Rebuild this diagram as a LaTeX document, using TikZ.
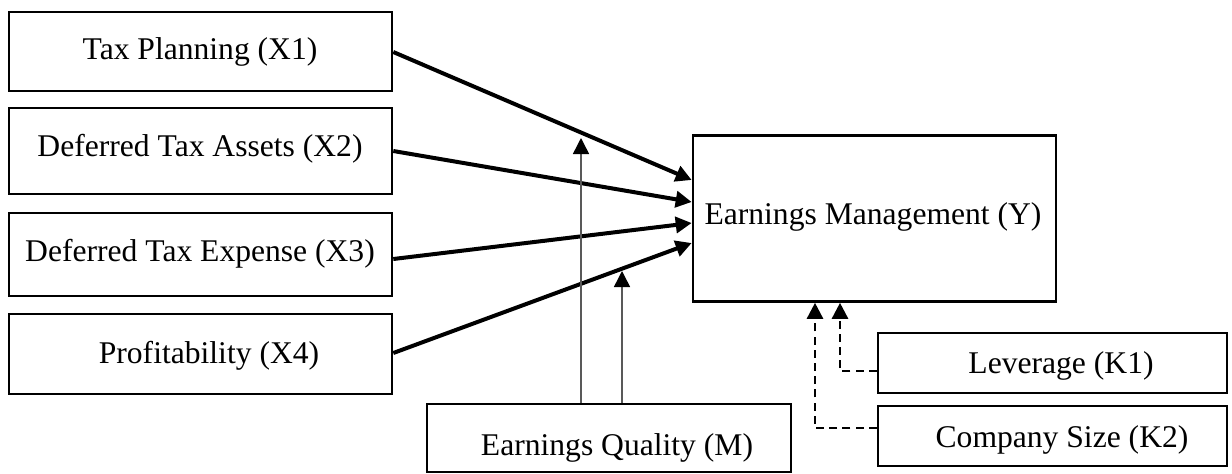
\documentclass[tikz,border=0pt]{standalone}
\usepackage{fontspec}
\setmainfont{Liberation Serif}
\usetikzlibrary{arrows.meta,calc}
\begin{document}
\begin{tikzpicture}[x=0.5pt,y=-0.5pt,
  box/.style={draw=black,line width=1.3pt,inner sep=0pt,fill=none},
  lbl/.style={anchor=base,inner sep=0pt,font=\fontsize{15.8}{18}\selectfont},
  thickarrow/.style={line width=2pt,-{Triangle[length=8pt,width=8pt]}},
  thinarrow/.style={line width=0.75pt,draw=black!65,-{Triangle[length=8pt,width=8pt,color=black]}},
  dasharrow/.style={line width=1.3pt,dash pattern=on 4pt off 2.6pt,-{Triangle[length=8pt,width=8pt]}}]
\useasboundingbox (0,0) rectangle (1232,473);
% boxes
\node[box,minimum width=191.5pt,minimum height=39.5pt] (x1) at (200.5,51.5) {};
\node[box,minimum width=191.5pt,minimum height=43pt] (x2) at (200.5,151) {};
\node[box,minimum width=191.5pt,minimum height=41.5pt] (x3) at (200.5,254.5) {};
\node[box,minimum width=191.5pt,minimum height=40pt] (x4) at (200.5,354) {};
\node[box,minimum width=181.5pt,minimum height=83pt] (y) at (874.5,218.5) {};
\node[box,minimum width=182pt,minimum height=34pt] (m) at (609,438) {};
\node[box,minimum width=174.5pt,minimum height=30pt] (k1) at (1052.5,363) {};
\node[box,minimum width=174.5pt,minimum height=30pt] (k2) at (1052.5,436) {};
% labels
\node[lbl] (tx1) at (200,59) {Tax Planning (X1)};
\node[lbl] (tx2) at (200,156) {Deferred Tax Assets (X2)};
\node[lbl] (tx3) at (200,261) {Deferred Tax Expense (X3)};
\node[lbl] (tx4) at (209,363) {Profitability (X4)};
\node[lbl] (ty) at (873,224) {Earnings Management (Y)};
\node[lbl] (tm) at (617,455) {Earnings Quality (M)};
\node[lbl] (tk1) at (1061,373) {Leverage (K1)};
\node[lbl] (tk2) at (1062,447) {Company Size (K2)};
% main arrows
\draw[thickarrow] ($(x1.east)+(0,0.5)$) -- ($(y.west)+(0,-38.5)$);
\draw[thickarrow] (x2.east) -- ($(y.west)+(0,-16.5)$);
\draw[thickarrow] ($(x3.east)+(0,4.5)$) -- ($(y.west)+(0,4.5)$);
\draw[thickarrow] ($(x4.east)+(0,-1)$) -- ($(y.west)+(0,24.5)$);
% moderating arrows
\coordinate (m1) at (581,138);
\coordinate (m2) at (622,271);
\draw[thinarrow] (m1 |- m.north) -- (m1);
\draw[thinarrow] (m2 |- m.north) -- (m2);
% control arrows
\draw[dasharrow] ($(k1.west)+(0,8)$) -| ($(y.south)+(-34.5,0)$);
\draw[dasharrow] ($(k2.west)+(0,-8)$) -| ($(y.south)+(-59.5,0)$);
\end{tikzpicture}
\end{document}
